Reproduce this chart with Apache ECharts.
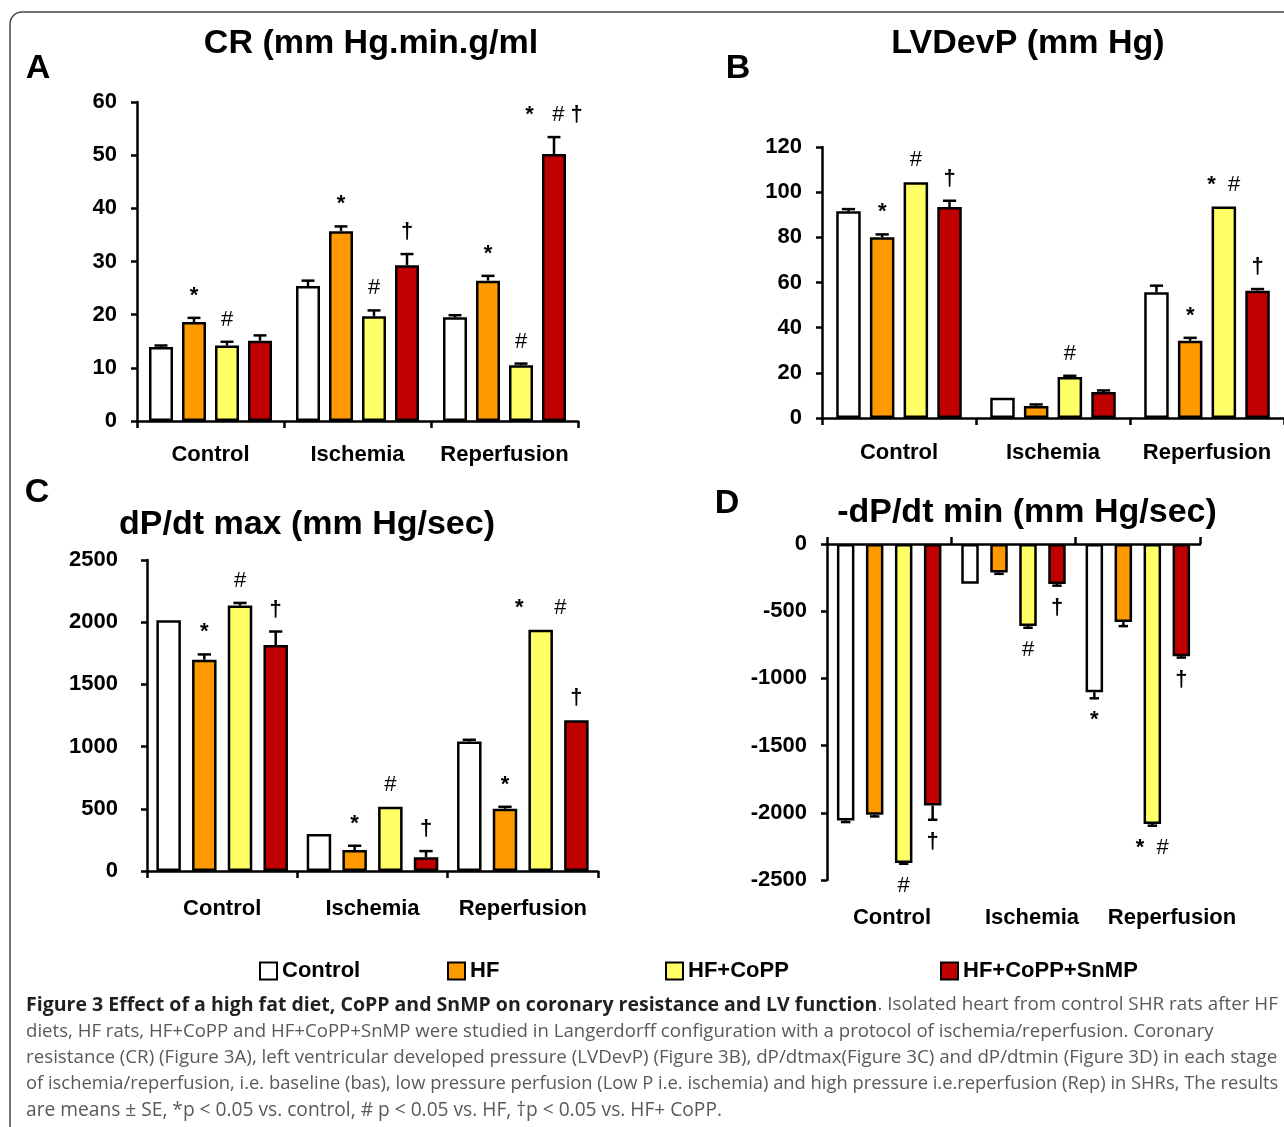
<!DOCTYPE html>
<html>
<head>
<meta charset="utf-8">
<script src="https://cdn.jsdelivr.net/npm/echarts@6/dist/echarts.min.js"></script>
<style>
  html, body { margin: 0; padding: 0; background: #fff; }
  #chart { width: 1284px; height: 1127px; }
</style>
</head>
<body>
<div id="chart"></div>
<script>
// ---------- data ----------
const categories = ['Control', 'Ischemia', 'Reperfusion'];
const groupNames = ['Control', 'HF', 'HF+CoPP', 'HF+CoPP+SnMP'];
const groupColors = ['#ffffff', '#ff9900', '#ffff66', '#c00000'];

// A: CR (mm Hg.min.g/ml) — rows: Control, HF, HF+CoPP, HF+CoPP+SnMP
const crMean  = [[13.9, 25.4, 19.5], [18.6, 35.7, 26.4], [14.2, 19.7, 10.5], [15.1, 29.3, 50.2]];
const crSE    = [[0.3, 1.0, 0.4], [0.8, 0.9, 0.9], [0.7, 1.1, 0.3], [1.0, 2.1, 3.2]];
const crMarks = [['', '', ''], ['*', '*', '*'], ['#', '#', '#'], ['', '†', '*   # †']];
const crTicks = [0, 10, 20, 30, 40, 50, 60];

// B: LVDevP (mm Hg)
const lvMean  = [[91.5, 9.0, 55.7], [80.0, 5.3, 34.2], [104.4, 18.2, 93.6], [93.4, 11.5, 56.4]];
const lvSE    = [[1.0, 0, 2.9], [1.3, 0.7, 1.3], [0, 0.5, 0], [2.8, 0.7, 0.7]];
const lvMarks = [['', '', ''], ['*', '', '*'], ['#', '#', '*  #'], ['†', '', '†']];
const lvTicks = [0, 20, 40, 60, 80, 100, 120];

// C: dP/dt max (mm Hg/sec)
const dpMaxMean  = [[2015, 297, 1040], [1698, 168, 500], [2134, 516, 1939], [1816, 110, 1211]];
const dpMaxSE    = [[0, 0, 15], [43, 35, 16], [21, 0, 0], [109, 50, 0]];
const dpMaxMarks = [['', '', ''], ['*', '*', '*'], ['#', '#', '*     #'], ['†', '†', '†']];
const dpMaxTicks = [0, 500, 1000, 1500, 2000, 2500];

// D: -dP/dt min (mm Hg/sec)
const dpMinMean  = [[-2057, -296, -1103], [-2015, -212, -581], [-2374, -611, -2084], [-1946, -298, -835]];
const dpMinSE    = [[12, 0, 45], [12, 10, 30], [5, 12, 12], [106, 12, 10]];
const dpMinMarks = [['', '', '*'], ['', '', ''], ['#', '#', '*  #'], ['†', '†', '†']];
const dpMinTicks = [-2500, -2000, -1500, -1000, -500, 0];

const panelTitles = ['CR (mm Hg.min.g/ml', 'LVDevP (mm Hg)', 'dP/dt max (mm Hg/sec)', '-dP/dt min (mm Hg/sec)'];
const panelLetters = ['A', 'B', 'C', 'D'];

const captionBold = 'Figure 3 Effect of a high fat diet, CoPP and SnMP on coronary resistance and LV function';
const captionLines = [
  '. Isolated heart from control SHR rats after HF',
  'diets, HF rats, HF+CoPP and HF+CoPP+SnMP were studied in Langerdorff configuration with a protocol of ischemia/reperfusion. Coronary',
  'resistance (CR) (Figure 3A), left ventricular developed pressure (LVDevP) (Figure 3B), dP/dtmax(Figure 3C) and dP/dtmin (Figure 3D) in each stage',
  'of ischemia/reperfusion, i.e. baseline (bas), low pressure perfusion (Low P i.e. ischemia) and high pressure i.e.reperfusion (Rep) in SHRs, The results',
  'are means \u00b1 SE, *p < 0.05 vs. control, # p < 0.05 vs. HF, \u2020p < 0.05 vs. HF+ CoPP.'
];

// ---------- layout / style ----------
const FONT = '"Liberation Sans", Arial, Helvetica, sans-serif';
const panels = [
  { mean: crMean, se: crSE, marks: crMarks, ticks: crTicks,
    grid: { left: 137, top: 102, width: 441, height: 319 }, barW: 24, barGap: 0.375, yMargin: 20, xMargin: 23,
    title: [371, 44], letter: [38, 69] },
  { mean: lvMean, se: lvSE, marks: lvMarks, ticks: lvTicks,
    grid: { left: 822, top: 147, width: 462, height: 271 }, barW: 24.5, barGap: 0.375, yMargin: 20, xMargin: 24,
    title: [1028, 44], letter: [738, 69] },
  { mean: dpMaxMean, se: dpMaxSE, marks: dpMaxMarks, ticks: dpMaxTicks,
    grid: { left: 147, top: 560, width: 451, height: 311 }, barW: 24.5, barGap: 0.457, yMargin: 29, xMargin: 27,
    title: [307, 525], letter: [37, 493] },
  { mean: dpMinMean, se: dpMinSE, marks: dpMinMarks, ticks: dpMinTicks,
    grid: { left: 827, top: 544, width: 373, height: 336 }, barW: 17.5, barGap: 0.657, yMargin: 20, xMargin: 27,
    labelGrid: { left: 822, top: 544, width: 420, height: 336 },
    title: [1027, 513], letter: [727, 504] }
];

const axisLineStyle = { color: '#000', width: 2.5 };
const labelStyle = { color: '#000', fontSize: 22, fontWeight: 'bold', fontFamily: FONT };

const grids = [], xAxes = [], yAxes = [], series = [], graphics = [];

panels.forEach((p, pi) => {
  const gIndex = grids.length;
  grids.push(Object.assign({ containLabel: false, outerBoundsMode: 'none' }, p.grid));
  const neg = pi === 3;
  const xIndex = xAxes.length;
  const yIndex = yAxes.length;
  xAxes.push({
    gridIndex: gIndex, type: 'category', data: categories, position: neg ? 'top' : 'bottom',
    axisLine: { show: true, onZero: false, lineStyle: axisLineStyle },
    axisTick: { show: true, length: 7, interval: 0, lineStyle: axisLineStyle },
    axisLabel: Object.assign({ show: !neg, margin: p.xMargin, interval: 0 }, labelStyle)
  });
  const tmin = p.ticks[0], tmax = p.ticks[p.ticks.length - 1];
  yAxes.push({
    gridIndex: gIndex, type: 'value', min: tmin, max: tmax, interval: p.ticks[1] - p.ticks[0],
    axisLine: { show: true, lineStyle: axisLineStyle },
    axisTick: { show: true, length: 6, lineStyle: axisLineStyle },
    splitLine: { show: false },
    axisLabel: Object.assign({ margin: p.yMargin, formatter: v => String(v) }, labelStyle)
  });
  if (p.labelGrid) {
    const lg = grids.length;
    grids.push(Object.assign({ containLabel: false, outerBoundsMode: 'none' }, p.labelGrid));
    xAxes.push({
      gridIndex: lg, type: 'category', data: categories, position: 'bottom',
      axisLine: { show: false, onZero: false }, axisTick: { show: false },
      axisLabel: Object.assign({ margin: p.xMargin, interval: 0 }, labelStyle)
    });
    yAxes.push({ gridIndex: lg, type: 'value', min: tmin, max: tmax, show: false });
  }

  groupNames.forEach((g, gi) => {
    series.push({
      type: 'bar', name: g, xAxisIndex: xIndex, yAxisIndex: yIndex,
      data: p.mean[gi], barWidth: p.barW, barGap: (p.barGap * 100) + '%',
      itemStyle: { color: groupColors[gi], borderColor: '#000', borderWidth: 2.5 },
      z: 2, animation: false
    });
  });

  // error bars + significance marks
  const errData = [], markList = [];
  groupNames.forEach((g, gi) => {
    categories.forEach((c, ci) => {
      errData.push([ci, gi, p.mean[gi][ci], p.se[gi][ci]]);
      markList.push(p.marks[gi][ci]);
    });
  });
  const step = p.barW * (1 + p.barGap);
  const sign = neg ? -1 : 1;
  series.push({
    type: 'custom', xAxisIndex: xIndex, yAxisIndex: yIndex, z: 5, animation: false,
    encode: { x: 0, y: 2 }, data: errData, silent: true,
    renderItem: function (params, api) {
      const ci = api.value(0), gi = api.value(1), m = api.value(2), se = api.value(3);
      const base = api.coord([ci, m]);
      const end = api.coord([ci, m + sign * se]);
      const x = base[0] + (gi - 1.5) * step;
      const cap = p.barW * 0.27;
      const children = [];
      if (se > 0) {
        children.push({ type: 'line', shape: { x1: x, y1: base[1], x2: x, y2: end[1] },
          style: { stroke: '#000', lineWidth: 2.5 } });
        children.push({ type: 'line', shape: { x1: x - cap, y1: end[1], x2: x + cap, y2: end[1] },
          style: { stroke: '#000', lineWidth: 2.5 } });
      }
      const mk = markList[params.dataIndex];
      if (mk) {
        children.push({ type: 'text', x: x, y: end[1] - sign * 22,
          style: { text: mk.replace(/#/g, '{h|#}'), fill: '#000', fontSize: 22, fontWeight: 'bold',
            fontFamily: FONT, align: 'center', verticalAlign: 'middle',
            rich: { h: { fontSize: 22, fontWeight: 'normal', fontFamily: FONT, fill: '#000' } } } });
      }
      return { type: 'group', children: children };
    }
  });

  graphics.push({ type: 'text', x: p.title[0], y: p.title[1],
    style: { text: panelTitles[pi], fill: '#000', font: 'bold 34px ' + FONT, align: 'center', verticalAlign: 'middle' } });
  graphics.push({ type: 'text', x: p.letter[0], y: p.letter[1],
    style: { text: panelLetters[pi], fill: '#000', font: 'bold 34px ' + FONT, align: 'center', verticalAlign: 'middle' } });
});

// frame
graphics.push({ type: 'rect', shape: { x: 10, y: 12, width: 1300, height: 1140, r: 12 },
  style: { fill: 'none', stroke: '#444', lineWidth: 1.5 }, z: -10 });

// caption: each line sized to end where the reference line ends
const capFont = '"Open Sans", "Noto Sans", sans-serif';
const capLeft = 26;
const capRight = [1278, 1213, 1277, 1278, 722];
const measureCtx = document.createElement('canvas').getContext('2d');
function textW(t, size, weight) {
  measureCtx.font = weight + ' ' + size + 'px ' + capFont;
  return measureCtx.measureText(t).width;
}
captionLines.forEach((line, li) => {
  const isFirst = li === 0;
  const baseN = 18.7, baseB = 19.4;
  let w = textW(line, baseN, 'normal') + (isFirst ? textW(captionBold, baseB, 'bold') : 0);
  const k = Math.min(1.08, Math.max(0.92, (capRight[li] - capLeft) / w));
  graphics.push({ type: 'text', x: capLeft, y: 1005 + li * 26.4,
    style: {
      text: isFirst ? '{b|' + captionBold + '}{n|' + line + '}' : '{n|' + line + '}',
      verticalAlign: 'middle', align: 'left',
      rich: {
        b: { fontFamily: capFont, fontSize: baseB * k, fontWeight: 'bold', fill: '#231f20' },
        n: { fontFamily: capFont, fontSize: baseN * k, fontWeight: 'normal', fill: '#58595b' }
      }
    } });
});

const legendX = [254, 442, 660, 935];
const legends = groupNames.map((g, gi) => ({
  data: [g], left: legendX[gi], top: 955, itemWidth: 17, itemHeight: 17, icon: 'rect',
  itemStyle: { borderColor: '#000', borderWidth: 2 },
  textStyle: { color: '#000', fontSize: 22, fontWeight: 'bold', fontFamily: FONT },
  selectedMode: false
}));

const chart = echarts.init(document.getElementById('chart'), null, { renderer: 'canvas' });
chart.setOption({
  backgroundColor: '#fff',
  animation: false,
  grid: grids,
  xAxis: xAxes,
  yAxis: yAxes,
  legend: legends,
  series: series,
  graphic: graphics
});
</script>
</body>
</html>
